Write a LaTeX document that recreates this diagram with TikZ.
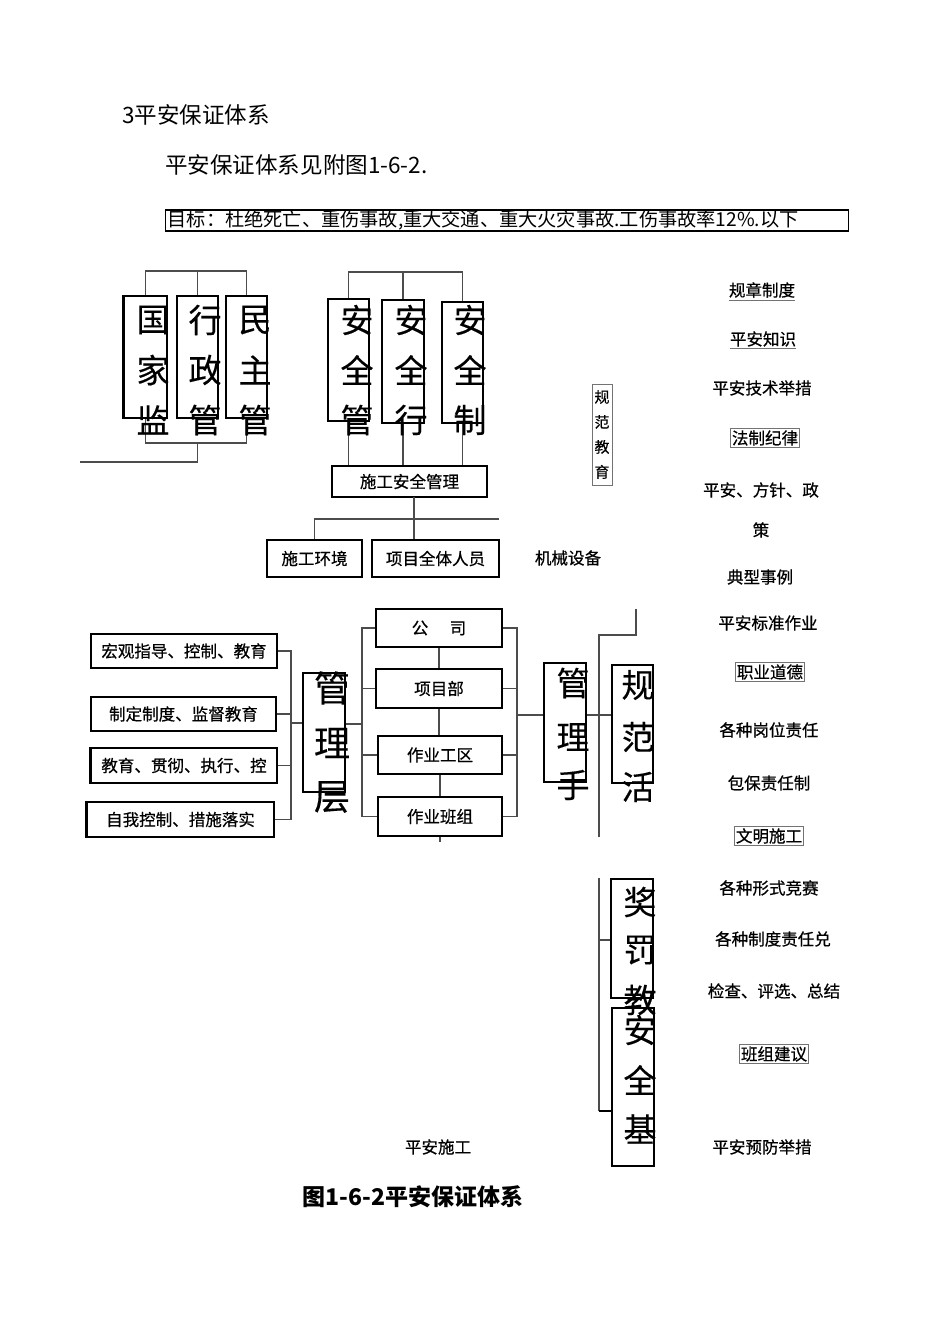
\documentclass[tikz,border=0pt]{standalone}
\usepackage{fontspec}
\setmainfont{Noto Sans CJK SC}
\newfontfamily\cjkb{Noto Sans CJK SC}[FakeBold=0.6]
\newfontfamily\cjkm{Noto Sans CJK SC}[FakeBold=0.3]
\newcommand\pxu{0.75pt}
\tikzset{
  box/.style={draw=black, line width=0.9pt, inner sep=0pt},
  sz/.style n args={2}{minimum width=#1*\pxu, minimum height=#2*\pxu},
  conn/.style={draw=black!70, line width=0.9pt},
  txt/.style={font=\cjkb\fontsize{12.4}{14}\selectfont, inner sep=0pt},
  bigc/.style={font=\cjkm\fontsize{24.75}{26}\selectfont, inner sep=0pt},
  bigd/.style={font=\cjkm\fontsize{27}{28}\selectfont, inner sep=0pt},
  head/.style={font=\fontsize{16.9}{18}\selectfont, inner sep=0pt},
  framed/.style={txt, draw=black!55, line width=0.6pt, inner sep=1.2pt},
  uline/.style={draw=black!55, line width=0.6pt},
}
\begin{document}
\begin{tikzpicture}[x=0.75pt,y=-0.75pt]
\useasboundingbox (0,0) rectangle (950,1344);
\fill[white] (0,0) rectangle (950,1344);

% ---------- headings ----------
\node[head, anchor=west] (t1) at (122,115) {3平安保证体系};
\node[head, anchor=west] (t2) at (165,165) {平安保证体系见附图1-6-2.};
\node[draw=black, line width=0.9pt, anchor=west, font=\fontsize{14.4}{16}\selectfont,
      minimum width=683*\pxu, minimum height=21*\pxu, text width=679*\pxu,
      inner xsep=2*\pxu, inner ysep=0pt, align=left] (goal) at (165,220.5)
  {目标：杜绝死亡、重伤事故,重大交通、重大火灾事故.工伤事故率12\%.以下};

% ---------- top-left group ----------
\node[box, sz={43}{122}] (b1) at (145.5,357) {};
\node[box, sz={41}{122}] (b2) at (197.5,357) {};
\node[box, sz={41}{122}] (b3) at (246.5,357) {};
\draw[line width=2pt] (b1.north west) -- (b1.south west);
\coordinate (tbus) at (0,271);
\coordinate (bbus) at (0,443);
\coordinate (lend) at (80,462);
\draw[conn] (b1.north) |- (tbus -| b3.north) -- (b3.north);
\draw[conn] (b2.north) -- (b2.north |- tbus);
\draw[conn] (b1.south) |- (bbus -| b3.south) -- (b3.south);
\draw[conn] (bbus -| b2.south) -- ++(0,19) -- (lend);
\node[bigc] (b1a) at (153,320) {国};
\node[bigc] (b1b) at (153,370) {家};
\node[bigc] (b1c) at (153,420) {监};
\node[bigc] (b2a) at (205,320) {行};
\node[bigc] (b2b) at (205,370) {政};
\node[bigc] (b2c) at (205,420) {管};
\node[bigc] (b3a) at (255,320) {民};
\node[bigc] (b3b) at (255,370) {主};
\node[bigc] (b3c) at (255,420) {管};

% ---------- top-middle group ----------
\node[box, sz={41}{122}] (s1) at (348.5,360) {};
\node[box, sz={42}{123}] (s2) at (403,361.5) {};
\node[box, sz={41}{121}] (s3) at (462.5,362.5) {};
\node[box, sz={155}{31}, txt] (sg) at (409.5,481.5) {施工安全管理};
\coordinate (tbus2) at (0,272);
\draw[conn] (s1.north) |- (tbus2 -| s3.north) -- (s3.north);
\draw[conn] (s2.north) -- (s2.north |- tbus2);
\draw[conn] (s1.south) -- (s1.south |- sg.north);
\draw[conn] (s2.south) -- (s2.south |- sg.north);
\draw[conn] (s3.south) -- (s3.south |- sg.north);
\node[bigc] (s1a) at (357,320) {安};
\node[bigc] (s1b) at (357,370) {全};
\node[bigc] (s1c) at (357,420) {管};
\node[bigc] (s2a) at (411,320) {安};
\node[bigc] (s2b) at (411,370) {全};
\node[bigc] (s2c) at (411,420) {行};
\node[bigc] (s3a) at (470,320) {安};
\node[bigc] (s3b) at (470,370) {全};
\node[bigc] (s3c) at (470,420) {制};

\node[box, sz={95}{37}, txt] (hj) at (314.5,558.5) {施工环境};
\node[box, sz={127}{37}, txt] (xm) at (435.5,558.5) {项目全体人员};
\node[txt] (jx) at (568,558) {机械设备};
\coordinate (mbus) at (499,519);
\coordinate (sgd) at (414,497);
\draw[conn] (sgd) -- (sgd |- xm.north);
\draw[conn] (hj.north) |- (mbus);

\node[draw=black!55, line width=0.6pt, inner sep=1pt, minimum width=20*\pxu,
      minimum height=101*\pxu, align=center,
      font=\cjkm\fontsize{11.25}{18.75}\selectfont] (gfjy) at (602,434.5) {规\\范\\教\\育};

% ---------- middle-left group ----------
\node[box, sz={186}{34}, txt] (L1) at (184,651) {宏观指导、控制、教育};
\node[box, sz={185}{34}, txt] (L2) at (183.5,714) {制定制度、监督教育};
\node[box, sz={186}{35}, txt] (L3) at (184,765.5) {教育、贯彻、执行、控};
\node[box, sz={187}{35}, txt] (L4) at (180.5,819.5) {自我控制、措施落实};
\draw[line width=2pt] (L3.north west) -- (L3.south west);
\draw[line width=2pt] (L4.north west) -- (L4.south west);
\coordinate (lx) at (291,0);
\coordinate (yl) at (0,723);
\draw[conn] (L1.east) -- (L1.east -| lx) -- (L4.east -| lx) -- (L4.east);
\draw[conn] (L2.east) -- (L2.east -| lx);
\draw[conn] (L3.east) -- (L3.east -| lx);

\node[box, sz={42}{119}] (GL) at (324,732.5) {};
\draw[conn] (lx |- yl) -- (GL.west |- yl);
\node[bigd] (GLa) at (332,688) {管};
\node[bigd] (GLb) at (332,743) {理};
\node[bigd] (GLc) at (332,797) {层};

\node[box, sz={126}{38}, txt] (C1) at (439,628) {公\hspace{1.3em}司};
\node[box, sz={126}{39}, txt] (C2) at (439,688.5) {项目部};
\node[box, sz={124}{38}, txt] (C3) at (440,755) {作业工区};
\node[box, sz={124}{39}, txt] (C4) at (440,816.5) {作业班组};
\coordinate (cx) at (362,0);
\coordinate (yc) at (0,724);
\draw[conn] (C1.west) -- (C1.west -| cx) -- (C4.west -| cx) -- (C4.west);
\draw[conn] (C2.west) -- (C2.west -| cx);
\draw[conn] (C3.west) -- (C3.west -| cx);
\draw[conn] (GL.east |- yc) -- (cx |- yc);
\draw[conn] (C1.south) -- (C1.south |- C2.north);
\draw[conn] (C2.south) -- (C2.south |- C3.north);
\draw[conn] (C3.south) -- (C3.south |- C4.north);
\draw[conn] (C4.south) -- ++(0,5);

\coordinate (rx) at (517,0);
\coordinate (yr) at (0,715);
\draw[conn] (C1.east) -- (C1.east -| rx) -- (C4.east -| rx) -- (C4.east);
\draw[conn] (C2.east) -- (C2.east -| rx);
\draw[conn] (C3.east) -- (C3.east -| rx);

% ---------- right vertical boxes ----------
\node[box, sz={42}{119}] (GS) at (565,722.5) {};
\node[box, sz={41}{118}] (GF) at (632.5,724) {};
\draw[conn] (rx |- yr) -- (GS.west |- yr);
\draw[conn] (GS.east |- yr) -- (GF.west |- yr);
\coordinate (v1) at (599,635);
\coordinate (v2) at (599,837);
\coordinate (gtop) at (636,609);
\draw[conn] (v2) -- (v1) -| (gtop);
\node[bigc] (GSa) at (573,683) {管};
\node[bigc] (GSb) at (573,737) {理};
\node[bigc] (GSc) at (573,785) {手};
\node[bigc] (GFa) at (638,685) {规};
\node[bigc] (GFb) at (638,737) {范};
\node[bigc] (GFc) at (638,787) {活};

\node[box, sz={42}{119}] (JF) at (632,938.5) {};
\node[box, sz={42}{158}] (AQ) at (633,1087) {};
\coordinate (w1) at (599,878);
\coordinate (w2) at (599,1111);
\coordinate (wj) at (0,940);
\draw[conn] (w1) -- (w2);
\draw[conn, line width=1.8pt, draw=black] (w2) -- (w2 -| AQ.west);
\draw[conn] (w1 |- wj) -- (JF.west |- wj);
\node[bigc] (JFa) at (640,902) {奖};
\node[bigc] (JFb) at (640,950) {罚};
\node[bigc] (JFc) at (640,1000) {教};
\node[bigc] (AQa) at (640,1030) {安};
\node[bigc] (AQb) at (640,1080) {全};
\node[bigc] (AQc) at (640,1129) {基};

% ---------- right column texts ----------
\node[txt] (r1) at (762,290) {规章制度};
\draw[uline] ([yshift=-1.5pt]r1.south west) -- ([yshift=-1.5pt]r1.south east);
\node[txt] (r2) at (763,339) {平安知识};
\draw[uline] ([yshift=-1.5pt]r2.south west) -- ([yshift=-1.5pt]r2.south east);
\node[txt] (r3) at (762,388) {平安技术举措};
\node[framed] (r4) at (765,438) {法制纪律};
\node[txt] (r5) at (761,490) {平安、方针、政};
\node[txt] (r6) at (761,530) {策};
\node[txt] (r7) at (760,577) {典型事例};
\node[txt] (r8) at (768,623) {平安标准作业};
\node[framed] (r9) at (770,672) {职业道德};
\node[txt] (r10) at (769,730) {各种岗位责任};
\node[txt] (r11) at (769,783) {包保责任制};
\node[framed] (r12) at (769,836) {文明施工};
\node[txt] (r13) at (769,888) {各种形式竞赛};
\node[txt] (r14) at (773,939) {各种制度责任兑};
\node[txt] (r15) at (774,991) {检查、评选、总结};
\node[framed] (r16) at (774,1054) {班组建议};
\node[txt] (r17) at (762,1147) {平安预防举措};

% ---------- bottom ----------
\node[txt] (aqsg) at (438,1147) {平安施工};
\node[inner sep=0pt, font=\fontsize{17.25}{18}\selectfont\bfseries] (cap) at (413,1197) {图1-6-2平安保证体系};
\end{tikzpicture}
\end{document}
